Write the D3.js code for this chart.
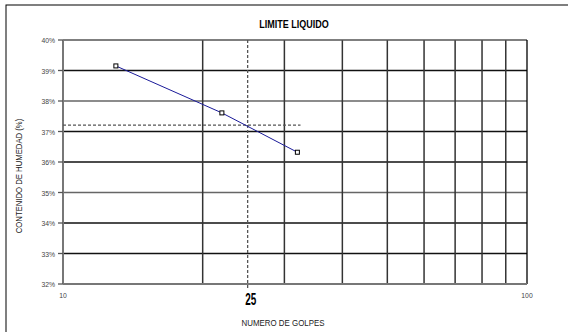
<!DOCTYPE html>
<html>
<head>
<meta charset="utf-8">
<script src="https://cdn.jsdelivr.net/npm/d3@7"></script>
<style>
  body { margin: 0; background: #fff; }
  svg text { font-family: "Liberation Sans", Arial, sans-serif; }
</style>
</head>
<body>
<svg id="canvas" width="568" height="332"></svg>
<script>
// datos
let golpes = [13, 22, 32];
let humedad = [39.15, 37.61, 36.32];
let yTicks = [32, 33, 34, 35, 36, 37, 38, 39, 40];
let xGrid = [20, 30, 40, 50, 60, 70, 80, 90];
let xLabels = [10, 100];
let golpesLL = 25;
let humedadLL = 37.21;
let golpesLimite = 32.5;

let svg = d3.select('#canvas')

let plotLeft = 63, plotRight = 527, plotTop = 40, plotBottom = 284;

let x = d3.scaleLog().domain([10, 100]).range([plotLeft, plotRight])
let y = d3.scaleLinear().domain([32, 40]).range([plotBottom, plotTop])

// texto angosto (la fuente original es condensada)
let narrowText = (px, py, txt, size, sx, anchor, rot) => {
  let g = svg.append('g')
    .attr('transform', `translate(${px},${py})` + (rot ? ` rotate(${rot})` : '') + ` scale(${sx},1)`)
  return g.append('text')
    .attr('text-anchor', anchor)
    .attr('font-size', size)
    .text(txt)
}

// marco exterior
svg.append('rect')
  .attr('x', 6).attr('y', 5)
  .attr('width', 600).attr('height', 340)
  .attr('fill', 'none')
  .attr('stroke', '#000')
  .attr('stroke-width', 1)

// rejilla horizontal
svg.selectAll('.hgrid')
  .data(yTicks.slice(1, -1))
  .enter()
  .append('line')
  .attr('x1', plotLeft).attr('x2', plotRight)
  .attr('y1', d => y(d)).attr('y2', d => y(d))
  .attr('stroke', (d, i) => i % 3 === 2 ? '#666' : '#111')
  .attr('stroke-width', 1.3)

// rejilla vertical
svg.selectAll('.vgrid')
  .data(xGrid)
  .enter()
  .append('line')
  .attr('y1', plotTop).attr('y2', plotBottom)
  .attr('x1', d => x(d)).attr('x2', d => x(d))
  .attr('stroke', '#333')
  .attr('stroke-width', 1.5)

// borde del area
svg.append('line').attr('x1', plotLeft).attr('x2', plotRight).attr('y1', plotTop).attr('y2', plotTop)
  .attr('stroke', '#555').attr('stroke-width', 1.5)
svg.append('line').attr('x1', plotRight).attr('x2', plotRight).attr('y1', plotTop).attr('y2', plotBottom)
  .attr('stroke', '#000').attr('stroke-width', 1.3)
svg.append('line').attr('x1', plotLeft).attr('x2', plotRight).attr('y1', plotBottom).attr('y2', plotBottom)
  .attr('stroke', '#777').attr('stroke-width', 2)
svg.append('line').attr('x1', plotLeft).attr('x2', plotLeft).attr('y1', plotTop).attr('y2', plotBottom)
  .attr('stroke', '#777').attr('stroke-width', 2)

// eje y: marcas
svg.selectAll('.ytick')
  .data(yTicks)
  .enter()
  .append('line')
  .attr('x1', plotLeft - 5).attr('x2', plotLeft)
  .attr('y1', d => y(d)).attr('y2', d => y(d))
  .attr('stroke', '#555').attr('stroke-width', 1.3)

yTicks.forEach(d => {
  narrowText(plotLeft - 8, y(d) + 3, d + '%', 8, 0.85, 'end').attr('fill', '#444')
})

// lineas punteadas del limite liquido
svg.append('line')
  .attr('x1', x(golpesLL)).attr('x2', x(golpesLL))
  .attr('y1', y(40)).attr('y2', y(32) + 5)
  .attr('stroke', '#555').attr('stroke-width', 1.3)
  .attr('stroke-dasharray', '3,2')
svg.append('line')
  .attr('x1', x(10)).attr('x2', x(golpesLimite))
  .attr('y1', y(humedadLL)).attr('y2', y(humedadLL))
  .attr('stroke', '#555').attr('stroke-width', 1.3)
  .attr('stroke-dasharray', '3,2')

// serie
let pts = golpes.map((g, i) => [g, humedad[i]])
svg.append('path')
  .datum(pts)
  .attr('d', d3.line().x(d => x(d[0])).y(d => y(d[1])))
  .attr('fill', 'none')
  .attr('stroke', '#1a1a99')
  .attr('stroke-width', 1)

svg.selectAll('.pt')
  .data(pts)
  .enter()
  .append('rect')
  .attr('x', d => x(d[0]) - 2)
  .attr('y', d => y(d[1]) - 2)
  .attr('width', 4).attr('height', 4)
  .attr('fill', '#fff')
  .attr('stroke', '#000')
  .attr('stroke-width', 1)

// etiquetas eje x
xLabels.forEach(d => {
  narrowText(x(d), 298, d, 8, 0.85, 'middle').attr('fill', '#444')
})
narrowText(x(golpesLL) + 3, 305, golpesLL, 16, 0.62, 'middle')
  .attr('font-weight', 'bold').attr('fill', '#000')

// titulos
narrowText(294, 28, 'LIMITE LIQUIDO', 10, 0.9, 'middle').attr('font-weight', 'bold')
narrowText(283, 326, 'NUMERO DE GOLPES', 9, 0.88, 'middle').attr('fill', '#222')
narrowText(22, 176, 'CONTENIDO DE HUMEDAD (%)', 9, 0.86, 'middle', -90).attr('fill', '#222')
</script>
</body>
</html>
